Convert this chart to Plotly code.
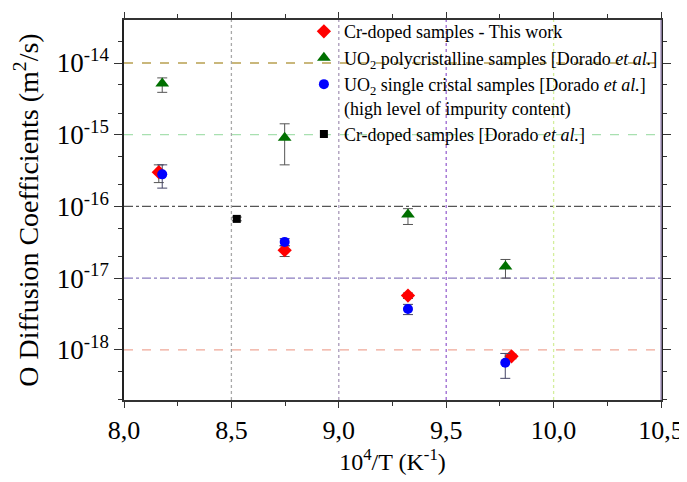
import plotly.graph_objects as go

# ---- data ----
x_cr_this = [8.162, 8.748, 9.322, 9.804]
d_cr_this = [3.0e-16, 2.45e-17, 5.7e-18, 8.1e-19]
cr_this_plus = [0.8e-16, 0.35e-17, 0.5e-18, 0.6e-19]
cr_this_minus = [0.85e-16, 0.45e-17, 0.5e-18, 0.6e-19]

x_poly = [8.178, 8.748, 9.322, 9.776]
d_poly = [5.2e-15, 9.1e-16, 7.7e-17, 1.45e-17]
poly_plus = [1.0e-15, 5.1e-16, 1.6e-17, 0.37e-17]
poly_minus = [1.3e-15, 5.3e-16, 2.1e-17, 0.45e-17]

x_single = [8.178, 8.748, 9.322, 9.775]
d_single = [2.8e-16, 3.2e-17, 3.7e-18, 6.6e-19]
single_plus = [1.0e-16, 0.35e-17, 0.6e-18, 2.3e-19]
single_minus = [1.0e-16, 0.35e-17, 0.6e-18, 2.6e-19]

x_cr_dorado = [8.525]
d_cr_dorado = [6.7e-17]
cr_dorado_err = [0.4e-17]

x_ticks = [8.0, 8.5, 9.0, 9.5, 10.0, 10.5]
x_ticklabels = ["8,0", "8,5", "9,0", "9,5", "10,0", "10,5"]
y_ticks = [1e-14, 1e-15, 1e-16, 1e-17, 1e-18]
y_ticklabels = ["10<sup>-14</sup>", "10<sup>-15</sup>", "10<sup>-16</sup>",
                "10<sup>-17</sup>", "10<sup>-18</sup>"]

x_grid_colors = ["#a8a8a8", "#a898b8", "#9a66d0", "#d4ee9c"]
y_grid_colors = ["#b8a050", "#a8e0b0", "#555555", "#8a7cc0", "#f0a898"]
y_grid_dash = ["dash", "dash", "dashdot", "dashdot", "dash"]

FONT = "Liberation Serif"

fig = go.Figure()

def err(plus, minus, color):
    return dict(type="data", symmetric=False, array=plus, arrayminus=minus,
                color=color, thickness=1, width=5)

fig.add_trace(go.Scatter(
    x=x_cr_this, y=d_cr_this, mode="markers",
    name="Cr-doped samples - This work",
    marker=dict(symbol="diamond", color="#ff0000", size=11),
    error_y=err(cr_this_plus, cr_this_minus, "#555555")))

fig.add_trace(go.Scatter(
    x=x_poly, y=d_poly, mode="markers",
    name="UO<sub>2</sub> polycristalline samples [Dorado <i>et al.</i>]",
    marker=dict(symbol="triangle-up", color="#007000", size=12),
    error_y=err(poly_plus, poly_minus, "#555555")))

fig.add_trace(go.Scatter(
    x=x_single, y=d_single, mode="markers",
    name="UO<sub>2</sub> single cristal samples [Dorado <i>et al.</i>]<br>(high level of impurity content)",
    marker=dict(symbol="circle", color="#0000ff", size=10),
    error_y=err(single_plus, single_minus, "#444466")))

fig.add_trace(go.Scatter(
    x=x_cr_dorado, y=d_cr_dorado, mode="markers",
    name="Cr-doped samples [Dorado <i>et al.</i>]",
    marker=dict(symbol="square", color="#000000", size=8),
    error_y=err(cr_dorado_err, cr_dorado_err, "#555555")))

# coloured dashed grid lines
for xv, c in zip(x_ticks[1:5], x_grid_colors):
    fig.add_shape(type="line", xref="x", yref="paper", x0=xv, x1=xv, y0=0, y1=1,
                  line=dict(color=c, width=1.3, dash="dot"), layer="below")
for yv, c, d in zip(y_ticks, y_grid_colors, y_grid_dash):
    fig.add_shape(type="line", xref="paper", yref="y", x0=0, x1=1, y0=yv, y1=yv,
                  line=dict(color=c, width=1.3, dash=d), layer="below")

# right frame edge (greyish purple)
fig.add_shape(type="line", xref="paper", yref="paper", x0=1, x1=1, y0=0, y1=1,
              line=dict(color="#a898c0", width=1.5))

# the page body has an 8px margin, so the figure is offset by 8px
fig.update_layout(
    width=679, height=474,
    margin=dict(l=116, r=26, t=5, b=82),
    paper_bgcolor="white", plot_bgcolor="white",
    font=dict(family=FONT, color="black"),
    showlegend=True,
    legend=dict(x=0.335, y=1.018, xanchor="left", yanchor="top",
                bgcolor="rgba(0,0,0,0)", borderwidth=0,
                font=dict(family=FONT, size=18, color="black"),
                valign="top", tracegroupgap=0, itemwidth=30),
    xaxis=dict(range=[8.0, 10.5], tickvals=x_ticks, ticktext=x_ticklabels,
               showgrid=False, zeroline=False, automargin=False,
               showline=True, linecolor="#333333", linewidth=1.5, mirror="ticks",
               ticks="outside", ticklen=6, tickcolor="#333333",
               minor=dict(ticks="outside", ticklen=4, dtick=0.25, tick0=8.0,
                          tickcolor="#333333", showgrid=False),
               tickfont=dict(family=FONT, size=26),
               title=dict(text="10<sup>4</sup>/T (K<sup>-1</sup>)",
                          font=dict(family=FONT, size=24), standoff=4)),
    yaxis=dict(type="log", range=[-18.7, -13.4], tickvals=y_ticks, ticktext=y_ticklabels,
               showgrid=False, zeroline=False, automargin=False,
               showline=True, linecolor="#222222", linewidth=1.5, mirror="ticks",
               ticks="outside", ticklen=8, tickcolor="#333333",
               minor=dict(ticks="outside", ticklen=4, tickcolor="#333333", showgrid=False),
               tickfont=dict(family=FONT, size=27),
               title=dict(text="O Diffusion Coefficients (m<sup>2</sup>/s)",
                          font=dict(family=FONT, size=28), standoff=10)),
)

fig.write_html("out.html")
